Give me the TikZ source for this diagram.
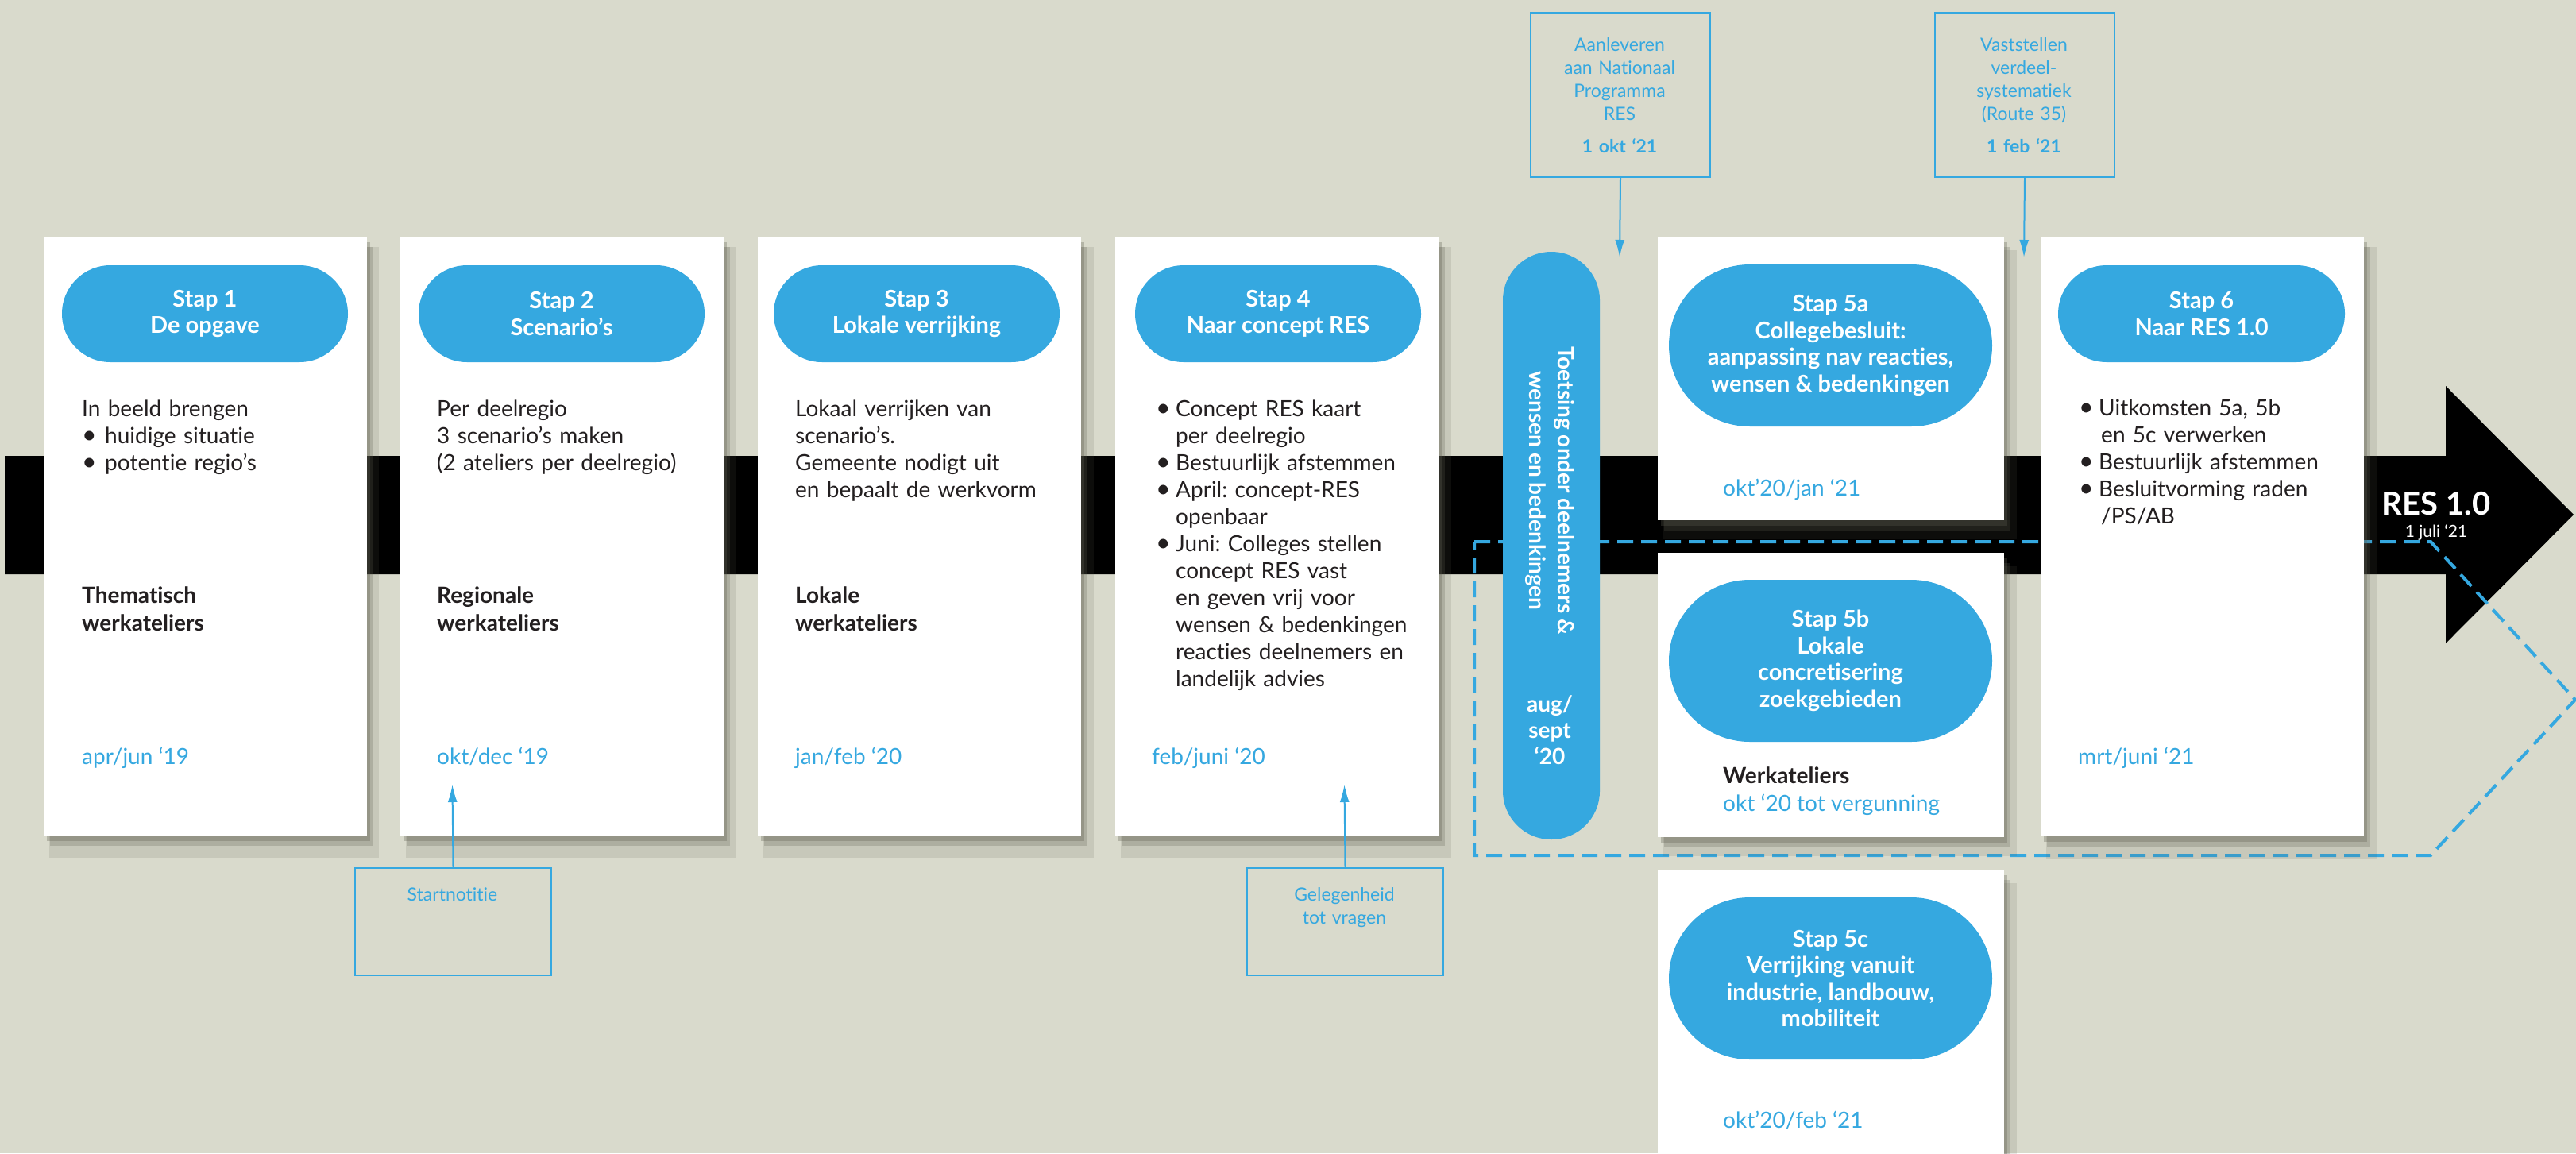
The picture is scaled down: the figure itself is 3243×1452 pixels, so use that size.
\documentclass[tikz,border=0pt]{standalone}
\usepackage{fontspec}
\setmainfont{Lato}[Ligatures=NoCommon]
\usetikzlibrary{arrows.meta,shadows}
\definecolor{bgc}{HTML}{D9DACC}
\definecolor{resblue}{HTML}{35A8E0}
\definecolor{darktext}{HTML}{231F20}
\definecolor{shadowc}{HTML}{5E5D50}
\frenchspacing
\newcommand{\bigbul}{\raisebox{-0.8pt}{\fontsize{32}{34}\selectfont\textbullet}}
\begin{document}
\begin{tikzpicture}[x=1pt,y=-1pt,
  card/.style={fill=white, inner sep=0pt, anchor=north west,
    drop shadow={shadow xshift=11pt,shadow yshift=-20pt,shadow scale=1.02,opacity=.14,fill=shadowc},
    drop shadow={shadow xshift=8pt,shadow yshift=-13pt,opacity=.24,fill=shadowc},
    drop shadow={shadow xshift=4pt,shadow yshift=-7pt,opacity=.3,fill=shadowc}},
  pill/.style={fill=resblue, inner sep=0pt, text=white, align=center,
    font=\fontsize{29}{33.5}\selectfont\bfseries},
  body/.style={anchor=base west, inner sep=0pt, text width=420pt, align=left,
    font=\fontsize{28}{34}\selectfont\frenchspacing, text=darktext},
  boldtext/.style={body, font=\fontsize{28}{35}\selectfont\bfseries},
  datetext/.style={anchor=base west, inner sep=0pt, font=\fontsize{28}{34}\selectfont, text=resblue},
  notebox/.style={draw=resblue, line width=2pt, inner sep=0pt, anchor=north west},
  notetext/.style={anchor=base, inner sep=0pt, text width=220pt, align=center,
    font=\fontsize{23}{29}\selectfont, text=resblue},
  notearrow/.style={draw=resblue, line width=2pt, -{Latex[length=22pt,width=12pt]}},
  dashline/.style={draw=resblue, line width=4pt, dash pattern=on 20pt off 10pt}
]
\useasboundingbox (0,0) rectangle (3243,1452);
\fill[bgc] (0,0) rectangle (3243,1452);

% main arrow
\fill[black] (6,574) -- (3079,574) -- (3079,486) -- (3240,648) -- (3079,810) -- (3079,723) -- (6,723) -- cycle;

% dashed outline
\draw[dashline] (1856,682) -- (3060,682) -- (3242,881) -- (3060,1077) -- (1856,1077) -- cycle;

% cards
\node[card, minimum width=407pt, minimum height=754pt] (c1) at (55,298) {};
\node[card, minimum width=407pt, minimum height=754pt] (c2) at (504,298) {};
\node[card, minimum width=407pt, minimum height=754pt] (c3) at (954,298) {};
\node[card, minimum width=407pt, minimum height=754pt] (c4) at (1404,298) {};
\node[card, minimum width=436pt, minimum height=357pt] (c5a) at (2087,298) {};
\node[card, minimum width=436pt, minimum height=358pt] (c5b) at (2087,696) {};
\node[card, minimum width=436pt, minimum height=380pt] (c5c) at (2087,1095) {};
\node[card, minimum width=407pt, minimum height=755pt] (c6) at (2569,298) {};

% pills
\node[pill, minimum width=360pt, minimum height=122pt, rounded corners=61pt] (p1) at (258,395) {Stap 1\\De opgave};
\node[pill, minimum width=360pt, minimum height=122pt, rounded corners=61pt] (p2) at (707,395) {Stap 2\\Scenario’s};
\node[pill, minimum width=360pt, minimum height=122pt, rounded corners=61pt] (p3) at (1154,395) {Stap 3\\Lokale verrijking};
\node[pill, minimum width=360pt, minimum height=122pt, rounded corners=61pt] (p4) at (1609,395) {Stap 4\\Naar concept RES};
\node[pill, minimum width=407pt, minimum height=204pt, rounded corners=102pt] (p5a) at (2304.5,435) {Stap 5a\\Collegebesluit:\\aanpassing nav reacties,\\wensen \& bedenkingen};
\node[pill, minimum width=407pt, minimum height=204pt, rounded corners=102pt] (p5b) at (2304.5,832) {Stap 5b\\Lokale\\concretisering\\zoekgebieden};
\node[pill, minimum width=407pt, minimum height=204pt, rounded corners=102pt] (p5c) at (2304.5,1232) {Stap 5c\\Verrijking vanuit\\industrie, landbouw,\\mobiliteit};
\node[pill, minimum width=361pt, minimum height=122pt, rounded corners=61pt] (p6) at (2771.5,395) {Stap 6\\Naar RES 1.0};

% vertical pill
\node[fill=resblue, minimum width=122pt, minimum height=740pt, rounded corners=61pt, inner sep=0pt] (pv) at (1953,687) {};
\node[rotate=-90, text=white, align=center, inner sep=0pt, font=\fontsize{28}{36}\selectfont\bfseries] (pvt) at (1951,618) {Toetsing onder deelnemers \&\\wensen en bedenkingen};
\node[text=white, align=center, inner sep=0pt, font=\fontsize{28}{33}\selectfont\bfseries] (pvd) at (1951,919) {aug/\\sept\\‘20};

% card 1
\node[body] (t1) at (103,524) {In beeld brengen\\\makebox[29pt][l]{\bigbul}huidige situatie\\\makebox[29pt][l]{\bigbul}potentie regio’s};
\node[boldtext] (w1) at (103,759) {Thematisch\\werkateliers};
\node[datetext] (d1) at (103,962) {apr/jun ‘19};

% card 2
\node[body] (t2) at (550,524) {Per deelregio\\3 scenario’s maken\\(2 ateliers per deelregio)};
\node[boldtext] (w2) at (550,759) {Regionale\\werkateliers};
\node[datetext] (d2) at (550,962) {okt/dec ‘19};

% card 3
\node[body] (t3) at (1001,524) {Lokaal verrijken van\\scenario’s.\\Gemeente nodigt uit\\en bepaalt de werkvorm};
\node[boldtext] (w3) at (1001,759) {Lokale\\werkateliers};
\node[datetext] (d3) at (1001,962) {jan/feb ‘20};

% card 4
\node[body] (t4) at (1455,524) {\makebox[25pt][l]{\bigbul}Concept RES kaart\\\hspace*{25pt}per deelregio\\\makebox[25pt][l]{\bigbul}Bestuurlijk afstemmen\\\makebox[25pt][l]{\bigbul}April: concept-RES\\\hspace*{25pt}openbaar\\\makebox[25pt][l]{\bigbul}Juni: Colleges stellen\\\hspace*{25pt}concept RES vast\\\hspace*{25pt}en geven vrij voor\\\hspace*{25pt}wensen \& bedenkingen\\\hspace*{25pt}reacties deelnemers en\\\hspace*{25pt}landelijk advies};
\node[datetext] (d4) at (1450,962) {feb/juni ‘20};

% card 5a/5b/5c
\node[datetext] (d5a) at (2169,624) {okt’20/jan ‘21};
\node[anchor=base west, inner sep=0pt, font=\fontsize{28}{34}\selectfont\bfseries, text=darktext] (w5b) at (2169,986) {Werkateliers};
\node[datetext] (d5b) at (2169,1021) {okt ‘20 tot vergunning};
\node[datetext] (d5c) at (2169,1420) {okt’20/feb ‘21};

% card 6
\node[body] (t6) at (2617,523) {\makebox[25pt][l]{\bigbul}Uitkomsten 5a, 5b\\\hspace*{28pt}en 5c verwerken\\\makebox[25pt][l]{\bigbul}Bestuurlijk afstemmen\\\makebox[25pt][l]{\bigbul}Besluitvorming raden\\\hspace*{28pt}/PS/AB};
\node[datetext] (d6) at (2616,962) {mrt/juni ‘21};

% RES 1.0
\node[text=white, inner sep=0pt, font=\fontsize{40}{44}\selectfont\bfseries] (res) at (3067,634) {RES 1.0};
\node[text=white, inner sep=0pt, font=\fontsize{21}{24}\selectfont] (resd) at (3067,670) {1 juli ‘21};

% notes top
\node[notebox, minimum width=226pt, minimum height=207pt] (a1) at (1926,15) {};
\node[notetext] (a1t) at (2039,64) {Aanleveren\\aan Nationaal\\Programma\\RES\\[12pt]\textbf{1 okt ‘21}};
\coordinate (a1tip) at (2039,324);
\draw[notearrow] (a1.south) -- (a1tip);

\node[notebox, minimum width=226pt, minimum height=207pt] (a2) at (2435,15) {};
\node[notetext] (a2t) at (2548,64) {Vaststellen\\verdeel-\\systematiek\\(Route 35)\\[12pt]\textbf{1 feb ‘21}};
\coordinate (a2tip) at (2548,324);
\draw[notearrow] (a2.south) -- (a2tip);

% notes bottom
\node[notebox, minimum width=247pt, minimum height=135pt] (b1) at (446,1092) {};
\node[notetext] (b1t) at (569.5,1134) {Startnotitie};
\coordinate (b1tip) at (569.5,988);
\draw[notearrow] (b1.north) -- (b1tip);

\node[notebox, minimum width=247pt, minimum height=135pt] (b2) at (1569,1092) {};
\node[notetext] (b2t) at (1692.5,1134) {Gelegenheid\\tot vragen};
\coordinate (b2tip) at (1692.5,988);
\draw[notearrow] (b2.north) -- (b2tip);
\end{tikzpicture}
\end{document}
